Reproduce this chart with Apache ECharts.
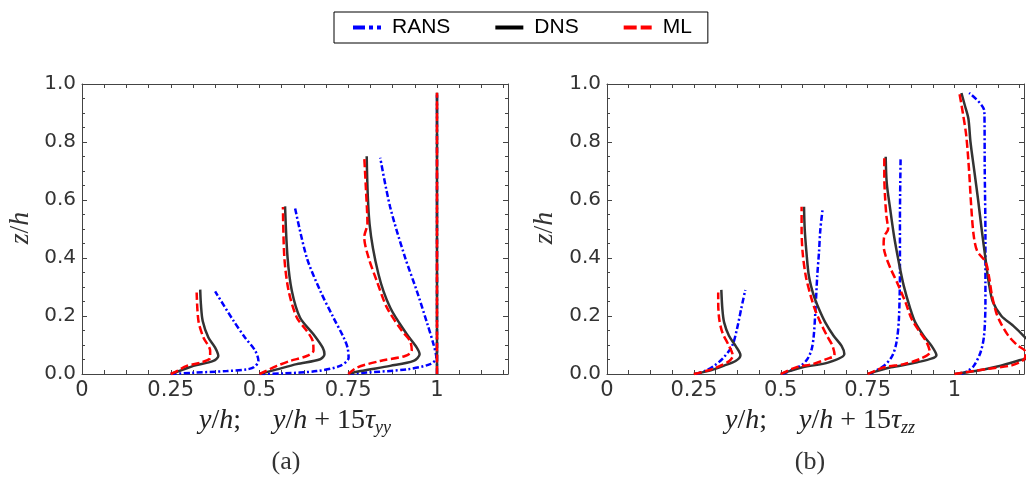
<!DOCTYPE html>
<html>
<head>
<meta charset="utf-8">
<script src="https://cdn.jsdelivr.net/npm/echarts@6/dist/echarts.min.js"></script>
<style>
  html, body { margin: 0; padding: 0; background: #ffffff; }
  #chart { width: 1027px; height: 478px; }
</style>
</head>
<body>
<div id="chart"></div>
<script>
// Wall-normal profiles at the stations y/h = 0.25, 0.5, 0.75 and 1.
// Each point is [y/h + 15*tau, z/h]; one inner list per station.

// Panel (a): tau_yy
const ransYY = [
  [[0.25, 0], [0.31, 0.004], [0.408, 0.01], [0.465, 0.016], [0.485, 0.024], [0.497, 0.045], [0.488, 0.08], [0.459, 0.126], [0.427, 0.183], [0.375, 0.285]],
  [[0.5, 0], [0.567, 0.002], [0.661, 0.01], [0.727, 0.028], [0.751, 0.056], [0.748, 0.091], [0.737, 0.126], [0.708, 0.195], [0.671, 0.287], [0.633, 0.402], [0.6, 0.573]],
  [[0.75, 0], [0.802, 0.005], [0.915, 0.016], [0.981, 0.034], [0.998, 0.056], [0.99, 0.103], [0.973, 0.172], [0.943, 0.287], [0.91, 0.402], [0.868, 0.576], [0.84, 0.746]],
  [[1, 0], [1, 0.97]]
];
const dnsYY = [
  [[0.25, 0], [0.285, 0.015], [0.314, 0.028], [0.37, 0.045], [0.384, 0.062], [0.375, 0.091], [0.356, 0.126], [0.34, 0.183], [0.335, 0.24], [0.333, 0.291]],
  [[0.5, 0], [0.549, 0.016], [0.605, 0.034], [0.671, 0.051], [0.683, 0.068], [0.678, 0.091], [0.652, 0.137], [0.614, 0.195], [0.591, 0.287], [0.579, 0.402], [0.572, 0.578]],
  [[0.75, 0], [0.784, 0.01], [0.868, 0.028], [0.934, 0.045], [0.951, 0.068], [0.943, 0.091], [0.915, 0.137], [0.868, 0.229], [0.835, 0.345], [0.81, 0.518], [0.802, 0.751]],
  [[1, 0], [1, 0.97]]
];
const mlYY = [
  [[0.25, 0], [0.27, 0.012], [0.295, 0.028], [0.333, 0.039], [0.361, 0.056], [0.361, 0.08], [0.342, 0.126], [0.328, 0.183], [0.323, 0.281]],
  [[0.5, 0], [0.549, 0.028], [0.586, 0.045], [0.633, 0.062], [0.652, 0.08], [0.65, 0.114], [0.633, 0.149], [0.605, 0.195], [0.582, 0.287], [0.57, 0.402], [0.566, 0.576]],
  [[0.75, 0], [0.774, 0.022], [0.84, 0.045], [0.91, 0.062], [0.929, 0.08], [0.924, 0.114], [0.901, 0.149], [0.859, 0.229], [0.83, 0.322], [0.807, 0.402], [0.795, 0.472], [0.804, 0.518], [0.8, 0.633], [0.795, 0.749]],
  [[1, 0], [1, 0.97]]
];

// Panel (b): tau_zz
const ransZZ = [
  [[0.255, 0], [0.285, 0.012], [0.309, 0.029], [0.332, 0.052], [0.36, 0.097], [0.374, 0.155], [0.386, 0.224], [0.398, 0.29]],
  [[0.505, 0], [0.558, 0.029], [0.577, 0.052], [0.589, 0.086], [0.595, 0.132], [0.6, 0.224], [0.605, 0.338], [0.61, 0.419], [0.614, 0.499], [0.621, 0.573]],
  [[0.755, 0], [0.798, 0.029], [0.821, 0.063], [0.833, 0.109], [0.84, 0.189], [0.843, 0.361], [0.843, 0.533], [0.845, 0.749]],
  [[1.02, 0], [1.04, 0.012], [1.056, 0.029], [1.075, 0.075], [1.085, 0.132], [1.089, 0.247], [1.089, 0.476], [1.087, 0.705], [1.086, 0.906], [1.042, 0.969]]
];
const dnsZZ = [
  [[0.25, 0], [0.29, 0.01], [0.337, 0.029], [0.37, 0.045], [0.384, 0.065], [0.37, 0.097], [0.351, 0.132], [0.337, 0.178], [0.332, 0.224], [0.329, 0.29]],
  [[0.5, 0], [0.563, 0.023], [0.638, 0.04], [0.683, 0.069], [0.675, 0.097], [0.652, 0.132], [0.628, 0.178], [0.61, 0.224], [0.595, 0.27], [0.581, 0.338], [0.574, 0.419], [0.569, 0.499], [0.567, 0.577]],
  [[0.75, 0], [0.817, 0.023], [0.892, 0.04], [0.948, 0.065], [0.934, 0.097], [0.911, 0.132], [0.887, 0.178], [0.873, 0.224], [0.854, 0.304], [0.84, 0.384], [0.826, 0.476], [0.815, 0.568], [0.805, 0.659], [0.802, 0.749]],
  [[1, 0], [1.06, 0.01], [1.12, 0.025], [1.18, 0.045], [1.23, 0.065], [1.23, 0.09], [1.2, 0.13], [1.17, 0.165], [1.135, 0.2], [1.11, 0.25], [1.098, 0.32], [1.09, 0.39], [1.078, 0.5], [1.068, 0.6], [1.057, 0.7], [1.046, 0.8], [1.04, 0.88], [1.03, 0.925], [1.02, 0.969]]
];
const mlZZ = [
  [[0.25, 0], [0.29, 0.012], [0.327, 0.029], [0.352, 0.045], [0.362, 0.063], [0.351, 0.097], [0.332, 0.143], [0.323, 0.189], [0.32, 0.247], [0.32, 0.281]],
  [[0.5, 0], [0.544, 0.023], [0.591, 0.034], [0.633, 0.052], [0.655, 0.065], [0.649, 0.097], [0.633, 0.132], [0.614, 0.178], [0.598, 0.224], [0.586, 0.27], [0.572, 0.338], [0.563, 0.419], [0.56, 0.499], [0.56, 0.577]],
  [[0.75, 0], [0.798, 0.023], [0.854, 0.034], [0.901, 0.052], [0.929, 0.075], [0.92, 0.109], [0.901, 0.143], [0.877, 0.189], [0.859, 0.247], [0.835, 0.315], [0.817, 0.361], [0.802, 0.407], [0.796, 0.442], [0.798, 0.476], [0.809, 0.499], [0.804, 0.545], [0.8, 0.614], [0.798, 0.682], [0.798, 0.749]],
  [[1, 0], [1.09, 0.017], [1.165, 0.03], [1.2, 0.05], [1.205, 0.075], [1.18, 0.1], [1.155, 0.132], [1.132, 0.178], [1.12, 0.212], [1.108, 0.27], [1.1, 0.33], [1.09, 0.385], [1.065, 0.425], [1.055, 0.48], [1.048, 0.58], [1.042, 0.7], [1.034, 0.82], [1.024, 0.9], [1.014, 0.969]]
];

// Tick labels
const xTickValues = [0, 0.25, 0.5, 0.75, 1];
const xTickLabels = ['0', '0.25', '0.5', '0.75', '1'];
const yTickLabels = ['0.0', '0.2', '0.4', '0.6', '0.8', '1.0'];

const AXIS_COLOR = '#444444';
const LABEL_COLOR = '#333333';

const styles = {
  RANS: { color: '#0000ff', width: 2.5, type: [6, 2.5, 2, 2.5] },
  DNS:  { color: '#333333', width: 2.5, type: 'solid' },
  ML:   { color: '#ff0000', width: 2.5, type: [8, 3.5] }
};

function xAxesFor(gridIndex) {
  const base = {
    type: 'value', gridIndex, min: 0, max: 1.2, interval: 0.0625,
    axisLine: { onZero: false, lineStyle: { color: AXIS_COLOR, width: 1 } },
    axisTick: { inside: true, length: 4, lineStyle: { color: AXIS_COLOR } },
    splitLine: { show: false }
  };
  return [
    Object.assign({}, base, {
      position: 'bottom',
      axisLabel: {
        margin: 6, color: LABEL_COLOR, fontFamily: 'DejaVu Sans', fontSize: 21,
        formatter: v => {
          const i = xTickValues.findIndex(t => Math.abs(t - v) < 1e-6);
          return i < 0 ? '' : xTickLabels[i];
        }
      }
    }),
    Object.assign({}, base, { position: 'top', axisLabel: { show: false } })
  ];
}

function yAxesFor(gridIndex) {
  const base = {
    type: 'value', gridIndex, min: 0, max: 1, interval: 0.2,
    axisLine: { onZero: false, lineStyle: { color: AXIS_COLOR, width: 1 } },
    axisTick: { inside: true, length: 5, lineStyle: { color: AXIS_COLOR } },
    minorTick: { show: true, splitNumber: 4, length: 3, lineStyle: { color: AXIS_COLOR } },
    splitLine: { show: false },
    minorSplitLine: { show: false }
  };
  return [
    Object.assign({}, base, {
      position: 'left',
      axisLabel: {
        margin: 6, color: LABEL_COLOR, fontFamily: 'DejaVu Sans', fontSize: 20,
        formatter: v => yTickLabels[Math.round(v / 0.2)]
      }
    }),
    Object.assign({}, base, { position: 'right', axisLabel: { show: false } })
  ];
}

function profileSeries(name, profiles, panel) {
  const st = styles[name];
  return profiles.map(points => ({
    type: 'line',
    name,
    xAxisIndex: panel * 2,
    yAxisIndex: panel * 2,
    data: points,
    symbol: 'none',
    smooth: 0.3,
    clip: true,
    itemStyle: { color: st.color },
    lineStyle: { color: st.color, width: st.width, type: st.type },
    emphasis: { disabled: true },
    animation: false
  }));
}

const mathFont = 'Liberation Serif';
function mathRich(size) {
  return {
    i: { fontFamily: mathFont, fontStyle: 'italic', fontSize: size, lineHeight: 32, verticalAlign: 'middle' },
    r: { fontFamily: mathFont, fontSize: size, lineHeight: 32, verticalAlign: 'middle' },
    p: { fontFamily: mathFont, fontSize: size, lineHeight: 32, verticalAlign: 'middle', padding: [0, 7, 0, 7] },
    sp: { width: 32, lineHeight: 32 },
    s: { fontFamily: mathFont, fontStyle: 'italic', fontSize: 18, lineHeight: 18, verticalAlign: 'bottom' }
  };
}

function xName(cx, sub) {
  return {
    type: 'text', x: cx, y: 421, silent: true,
    style: {
      text: '{i|y}{r|/}{i|h}{r|;}{sp|}{i|y}{r|/}{i|h}{p|+}{r|15}{i|τ}{s|' + sub + '}',
      rich: mathRich(28),
      textAlign: 'center', textVerticalAlign: 'middle', fill: '#222222'
    }
  };
}

function zName(cx) {
  return {
    type: 'text', x: cx, y: 228, rotation: Math.PI / 2, silent: true,
    style: {
      text: '{i|z}{r|/}{i|h}', rich: mathRich(28),
      textAlign: 'center', textVerticalAlign: 'middle', fill: '#333333'
    }
  };
}

function caption(cx, label) {
  return {
    type: 'text', x: cx, y: 462, silent: true,
    style: {
      text: label, font: '26px "Liberation Serif"',
      textAlign: 'center', textVerticalAlign: 'middle', fill: '#333333'
    }
  };
}

const chart = echarts.init(document.getElementById('chart'), null, { renderer: 'canvas' });

chart.setOption({
  animation: false,
  backgroundColor: '#ffffff',
  grid: [
    { left: 82, right: 519, top: 84, bottom: 104 },
    { left: 607, right: -6, top: 84, bottom: 104 }
  ],
  xAxis: [...xAxesFor(0), ...xAxesFor(1)],
  yAxis: [...yAxesFor(0), ...yAxesFor(1)],
  legend: {
    left: 334, top: 12, orient: 'horizontal',
    padding: [5, 16, 5, 17], itemGap: 43, itemWidth: 28, itemHeight: 14,
    borderColor: '#000000', borderWidth: 1, borderRadius: 0,
    selectedMode: false,
    itemStyle: { color: 'rgba(0,0,0,0)', borderWidth: 0 },
    textStyle: { fontFamily: 'Liberation Sans', fontSize: 21, color: '#000000', padding: [0, 0, 0, 6], lineHeight: 20 },
    data: [
      { name: 'RANS', itemStyle: { color: 'rgba(0,0,0,0)', borderWidth: 0 }, lineStyle: { width: 4, color: '#0000ff', type: [12, 4, 4, 4] } },
      { name: 'DNS', itemStyle: { color: 'rgba(0,0,0,0)', borderWidth: 0 }, lineStyle: { width: 4, color: '#000000', type: 'solid' } },
      { name: 'ML', itemStyle: { color: 'rgba(0,0,0,0)', borderWidth: 0 }, lineStyle: { width: 4, color: '#ff0000', type: [13, 4] } }
    ]
  },
  series: [
    ...profileSeries('RANS', ransYY, 0),
    ...profileSeries('DNS', dnsYY, 0),
    ...profileSeries('ML', mlYY, 0),
    ...profileSeries('RANS', ransZZ, 1),
    ...profileSeries('DNS', dnsZZ, 1),
    ...profileSeries('ML', mlZZ, 1)
  ],
  graphic: [
    zName(21),
    zName(545),
    xName(295, 'yy'),
    xName(820, 'zz'),
    caption(286, '(a)'),
    caption(810, '(b)')
  ]
});
</script>
</body>
</html>
